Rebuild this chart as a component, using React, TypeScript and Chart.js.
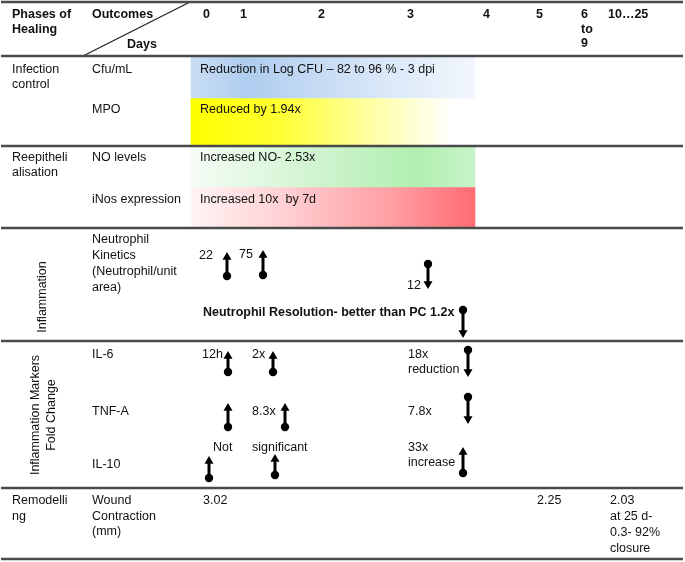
import { useEffect, useRef } from "react";
import { Chart, registerables } from "chart.js";

Chart.register(...registerables);

// ---------------- content (data) ----------------
const dayLabels = ["0", "1", "2", "3", "4", "5", "6\nto\n9", "10…25"];
const headerLabels = ["Phases of\nHealing", "Outcomes", "Days"];
const phaseLabels = [
  "Infection\ncontrol",
  "Reepitheli\nalisation",
  "Inflammation",
  "Inflammation Markers\nFold Change",
  "Remodelli\nng",
];
const outcomeLabels = [
  "Cfu/mL",
  "MPO",
  "NO levels",
  "iNos expression",
  "Neutrophil\nKinetics\n(Neutrophil/unit\narea)",
  "IL-6",
  "TNF-A",
  "IL-10",
  "Wound\nContraction\n(mm)",
];
const bandTexts = [
  "Reduction in Log CFU – 82 to 96 % - 3 dpi",
  "Reduced by 1.94x",
  "Increased NO- 2.53x",
  "Increased 10x  by 7d",
];
const neutrophilCounts = ["22", "75", "12"];
const neutrophilDirections = ["up", "up", "down"];
const resolutionText = "Neutrophil Resolution- better than PC 1.2x";
const resolutionDirection = "down";
const markerNotes = ["12h", "2x", "18x\nreduction", "8.3x", "7.8x", "Not", "significant", "33x\nincrease"];
const markerDirections = [
  ["up", "up", "down"], // IL-6
  ["up", "up", "down"], // TNF-A
  ["up", "up", "up"], // IL-10
];
const woundContraction = ["3.02", "2.25", "2.03\nat 25 d-\n0.3- 92%\nclosure"];

// ---------------- layout & style ----------------
const W = 685;
const H = 562;
const FONT = '"Liberation Sans", Arial, sans-serif';
const FS = 12.5;
const ruleYs = [2, 56, 146, 228, 341, 488, 559];
const ruleX = [1, 683];
const diagonal = [
  { x: 83, y: 56 },
  { x: 190, y: 2 },
];
const dayX = [203, 240, 318, 407, 483, 536, 581, 608];
const headerPos = [
  { x: 12, y: 15, lh: 14.5 },
  { x: 92, y: 15 },
  { x: 127, y: 45 },
];
const phasePos = [
  { x: 12, y: 70, lh: 14.5 },
  { x: 12, y: 158, lh: 14.5 },
  { x: 43, y: 297, rotate: true },
  { x: 44, y: 415, rotate: true, lh: 16 },
  { x: 12, y: 501, lh: 15.5 },
];
const outcomePos = [
  { x: 92, y: 70 },
  { x: 92, y: 110 },
  { x: 92, y: 158 },
  { x: 92, y: 200 },
  { x: 92, y: 240, lh: 15.7 },
  { x: 92, y: 355 },
  { x: 92, y: 412 },
  { x: 92, y: 465 },
  { x: 92, y: 501, lh: 15.5 },
];
const bandX = [191, 475];
const bandY = [
  [57, 98],
  [98, 146],
  [147, 187],
  [187, 228],
];
const bandTextPos = [
  { x: 200, y: 70 },
  { x: 200, y: 110 },
  { x: 200, y: 158 },
  { x: 200, y: 200 },
];
const bandStops: [number, string][][] = [
  [
    [0, "#c8ddf4"],
    [0.2, "#afcdef"],
    [0.55, "#cfe1f6"],
    [1, "#f2f7fd"],
  ],
  [
    [0, "#ffff00"],
    [0.3, "#ffff30"],
    [0.55, "#ffff88"],
    [0.92, "#ffffff"],
    [1, "#ffffff"],
  ],
  [
    [0, "#f5fcf5"],
    [0.45, "#cff4cf"],
    [0.8, "#b0efb0"],
    [1, "#c9f4c9"],
  ],
  [
    [0, "#fff4f4"],
    [0.3, "#ffd3d6"],
    [0.7, "#ffa0a4"],
    [1, "#ff6c72"],
  ],
];
const neutrophilCountPos = [
  { x: 199, y: 256 },
  { x: 239, y: 255 },
  { x: 407, y: 286 },
];
const neutrophilArrowPos = [
  { x: 227, dot: 276, len: 24 },
  { x: 263, dot: 275, len: 25 },
  { x: 428, dot: 264, len: 25 },
];
const resolutionPos = { x: 203, y: 313 };
const resolutionArrowPos = { x: 463, dot: 310, len: 28 };
const markerNotePos = [
  { x: 202, y: 355 },
  { x: 252, y: 355 },
  { x: 408, y: 355, lh: 14.5 },
  { x: 252, y: 412 },
  { x: 408, y: 412 },
  { x: 213, y: 448 },
  { x: 252, y: 448 },
  { x: 408, y: 448, lh: 15 },
];
const markerArrowPos = [
  [
    { x: 228, dot: 372, len: 21 },
    { x: 273, dot: 372, len: 21 },
    { x: 468, dot: 350, len: 27 },
  ],
  [
    { x: 228, dot: 427, len: 24 },
    { x: 285, dot: 427, len: 24 },
    { x: 468, dot: 397, len: 27 },
  ],
  [
    { x: 209, dot: 478, len: 22 },
    { x: 275, dot: 475, len: 21 },
    { x: 463, dot: 473, len: 26 },
  ],
];
const woundPos = [
  { x: 203, y: 501 },
  { x: 537, y: 501 },
  { x: 610, y: 501, lh: 15.7 },
];
const HEAD_R = 5.2;

type Label = { text: string; x: number; y: number; bold?: boolean; lh?: number; rotate?: boolean };

function buildLabels(): Label[] {
  const out: Label[] = [];
  dayLabels.forEach((t, i) => out.push({ text: t, x: dayX[i], y: 15, bold: true, lh: 14.5 }));
  headerLabels.forEach((t, i) => out.push({ text: t, ...headerPos[i], bold: true }));
  phaseLabels.forEach((t, i) => out.push({ text: t, ...phasePos[i] }));
  outcomeLabels.forEach((t, i) => out.push({ text: t, ...outcomePos[i] }));
  bandTexts.forEach((t, i) => out.push({ text: t, ...bandTextPos[i] }));
  neutrophilCounts.forEach((t, i) => out.push({ text: t, ...neutrophilCountPos[i] }));
  out.push({ text: resolutionText, ...resolutionPos, bold: true });
  markerNotes.forEach((t, i) => out.push({ text: t, ...markerNotePos[i] }));
  woundContraction.forEach((t, i) => out.push({ text: t, ...woundPos[i] }));
  return out;
}

function arrowDataset(x: number, dot: number, len: number, dir: string) {
  const up = dir === "up";
  const tip = up ? dot - len : dot + len;
  const headCenter = up ? tip + HEAD_R : tip - HEAD_R;
  return {
    type: "line" as const,
    order: 0,
    data: [
      { x, y: dot },
      { x, y: headCenter },
    ],
    borderColor: "#000",
    borderWidth: 3,
    pointStyle: ["circle", "triangle"],
    pointRadius: [4.2, HEAD_R],
    pointHoverRadius: 0,
    pointRotation: [0, up ? 0 : 180],
    pointBackgroundColor: "#000",
    pointBorderColor: "#000",
    pointBorderWidth: 0,
  };
}

const textPlugin = {
  id: "tableText",
  afterDatasetsDraw(chart: any) {
    const { ctx, scales } = chart;
    const xs = scales.x;
    const ys = scales.y;
    ctx.save();
    ctx.fillStyle = "#111";
    ctx.textBaseline = "middle";
    for (const l of buildLabels()) {
      const lines = l.text.split("\n");
      const lh = l.lh ?? 14.5;
      ctx.font = `${l.bold ? "bold " : ""}${FS}px ${FONT}`;
      const px = xs.getPixelForValue(l.x);
      const py = ys.getPixelForValue(l.y);
      if (l.rotate) {
        ctx.save();
        ctx.translate(px, py);
        ctx.rotate(-Math.PI / 2);
        ctx.textAlign = "center";
        const off = ((lines.length - 1) * lh) / 2;
        lines.forEach((ln, i) => ctx.fillText(ln, 0, i * lh - off));
        ctx.restore();
      } else {
        ctx.textAlign = "left";
        lines.forEach((ln, i) => ctx.fillText(ln, px, py + i * lh));
      }
    }
    ctx.restore();
  },
};

export default function App() {
  const ref = useRef<HTMLCanvasElement | null>(null);
  useEffect(() => {
    if (!ref.current) return;
    const datasets: any[] = [];
    // gradient bands (floating horizontal bars)
    bandY.forEach(([y0, y1], i) => {
      datasets.push({
        type: "bar",
        indexAxis: "y",
        stack: "bands",
        order: 2,
        barThickness: y1 - y0,
        borderWidth: 0,
        data: [{ x: [bandX[0], bandX[1]], y: (y0 + y1) / 2 }],
        backgroundColor: (c: any) => {
          const chart = c.chart;
          const xs = chart.scales && chart.scales.x;
          const fallback = bandStops[i][1][1];
          if (!xs) return fallback;
          const p0 = xs.getPixelForValue(bandX[0]);
          const p1 = xs.getPixelForValue(bandX[1]);
          if (!isFinite(p0) || !isFinite(p1) || p0 === p1) return fallback;
          const g = chart.ctx.createLinearGradient(p0, 0, p1, 0);
          bandStops[i].forEach(([o, col]) => g.addColorStop(o, col));
          return g;
        },
      });
    });
    // horizontal rules
    ruleYs.forEach((y) => {
      datasets.push({
        type: "line",
        order: 1,
        data: [
          { x: ruleX[0], y },
          { x: ruleX[1], y },
        ],
        borderColor: "#4a4a4a",
        borderWidth: 2.5,
        pointRadius: 0,
        pointHoverRadius: 0,
      });
    });
    datasets.push({
      type: "line",
      order: 1,
      data: diagonal,
      borderColor: "#222",
      borderWidth: 1.3,
      pointRadius: 0,
      pointHoverRadius: 0,
    });
    // arrows
    neutrophilDirections.forEach((d, i) => {
      const p = neutrophilArrowPos[i];
      datasets.push(arrowDataset(p.x, p.dot, p.len, d));
    });
    datasets.push(arrowDataset(resolutionArrowPos.x, resolutionArrowPos.dot, resolutionArrowPos.len, resolutionDirection));
    markerDirections.forEach((row, r) =>
      row.forEach((d, i) => {
        const p = markerArrowPos[r][i];
        datasets.push(arrowDataset(p.x, p.dot, p.len, d));
      })
    );

    const chart = new Chart(ref.current, {
      type: "scatter",
      data: { datasets },
      options: {
        responsive: false,
        animation: false,
        events: [],
        layout: { padding: 0, autoPadding: false },
        plugins: { legend: { display: false }, tooltip: { enabled: false } },
        scales: {
          x: { type: "linear", min: 0, max: W, display: false, stacked: false, offset: false, grid: { offset: false } },
          y: { type: "linear", min: 0, max: H, reverse: true, display: false, offset: false, grid: { offset: false } },
        },
      } as any,
      plugins: [textPlugin],
    });
    return () => chart.destroy();
  }, []);
  return (
    <div style={{ position: "absolute", left: 0, top: 0, width: W, height: H, background: "#fff" }}>
      <canvas ref={ref} width={W} height={H} style={{ display: "block" }} />
    </div>
  );
}
